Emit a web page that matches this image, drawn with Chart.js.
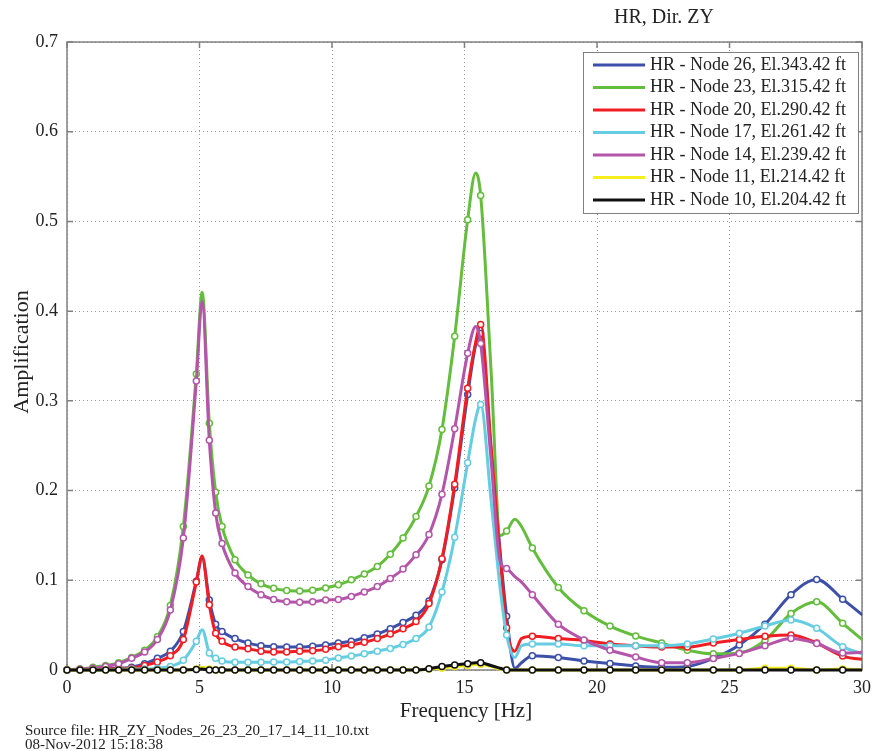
<!doctype html>
<html lang="en">
<head>
<meta charset="utf-8">
<title>HR, Dir. ZY</title>
<script src="https://cdn.jsdelivr.net/npm/chart.js@4.4.1/dist/chart.umd.min.js"></script>
<style>
  html, body { margin: 0; padding: 0; background: #fff; }
  #wrap { width: 878px; height: 751px; }
</style>
</head>
<body>
<div id="wrap"><canvas id="chart" width="878" height="751"></canvas></div>
<script>
// frequency grid [Hz]; markers on every point except the ones listed in unmarkedFreqs
const freqs = [0, 0.49, 0.98, 1.46, 1.95, 2.44, 2.93, 3.41, 3.90, 4.39, 4.88, 5.1, 5.37, 5.61, 5.85,
  6.34, 6.83, 7.32, 7.80, 8.29, 8.78, 9.27, 9.76, 10.24, 10.73, 11.22, 11.71, 12.20, 12.68, 13.17,
  13.66, 14.15, 14.63, 15.12, 15.42, 15.61, 16.0, 16.35, 16.59, 16.9, 17.15, 17.56, 18.54, 19.51,
  20.49, 21.46, 22.44, 23.41, 24.39, 25.37, 26.34, 27.32, 28.29, 29.27, 30.24];
const unmarkedFreqs = [5.1, 15.42, 16.0, 16.35, 16.9, 17.15];

const seriesLabels = [
  'HR - Node 26, El.343.42 ft',
  'HR - Node 23, El.315.42 ft',
  'HR - Node 20, El.290.42 ft',
  'HR - Node 17, El.261.42 ft',
  'HR - Node 14, El.239.42 ft',
  'HR - Node 11, El.214.42 ft',
  'HR - Node 10, El.204.42 ft'
];

const node26 = [0, 0, 0.0005, 0.001, 0.002, 0.003, 0.007, 0.013, 0.021, 0.043, 0.099, 0.125, 0.078, 0.051, 0.043,
  0.035, 0.030, 0.027, 0.026, 0.0255, 0.0255, 0.0265, 0.028, 0.030, 0.032, 0.036, 0.040, 0.046, 0.053, 0.061,
  0.077, 0.123, 0.203, 0.307, 0.362, 0.375, 0.245, 0.130, 0.060, 0.002, 0.008, 0.016, 0.014, 0.010,
  0.0072, 0.0045, 0.003, 0.004, 0.013, 0.028, 0.051, 0.084, 0.101, 0.079, 0.056];
const node23 = [0, 0.001, 0.003, 0.005, 0.008, 0.014, 0.022, 0.037, 0.072, 0.160, 0.330, 0.421, 0.275, 0.198, 0.160,
  0.123, 0.106, 0.096, 0.091, 0.0885, 0.088, 0.089, 0.0915, 0.095, 0.1005, 0.107, 0.1155, 0.129, 0.147, 0.171,
  0.205, 0.268, 0.372, 0.502, 0.554, 0.529, 0.335, 0.150, 0.155, 0.168, 0.160, 0.136, 0.092, 0.066,
  0.049, 0.038, 0.030, 0.022, 0.018, 0.019, 0.033, 0.063, 0.076, 0.052, 0.028];
const node20 = [0, 0, 0.0005, 0.001, 0.0015, 0.002, 0.005, 0.009, 0.016, 0.034, 0.098, 0.127, 0.0726, 0.041, 0.032,
  0.0255, 0.0237, 0.021, 0.020, 0.020, 0.021, 0.0215, 0.023, 0.026, 0.028, 0.031, 0.035, 0.040, 0.046, 0.054,
  0.074, 0.124, 0.207, 0.314, 0.365, 0.385, 0.250, 0.125, 0.047, 0.021, 0.035, 0.0376, 0.035, 0.033,
  0.029, 0.027, 0.0255, 0.0255, 0.030, 0.034, 0.0375, 0.039, 0.030, 0.0155, 0.011];
const node17 = [0, 0, 0, 0, 0.0005, 0.001, 0.001, 0.002, 0.004, 0.011, 0.032, 0.045, 0.019, 0.013, 0.010,
  0.0085, 0.0085, 0.0085, 0.0088, 0.009, 0.0095, 0.010, 0.011, 0.0135, 0.0155, 0.018, 0.021, 0.024, 0.0285, 0.035,
  0.048, 0.087, 0.148, 0.231, 0.280, 0.296, 0.190, 0.090, 0.039, 0.014, 0.027, 0.029, 0.029, 0.027,
  0.027, 0.027, 0.027, 0.029, 0.0346, 0.041, 0.049, 0.0557, 0.0465, 0.026, 0.016];
const node14 = [0, 0.001, 0.002, 0.004, 0.007, 0.013, 0.020, 0.034, 0.067, 0.147, 0.322, 0.411, 0.256, 0.175, 0.141,
  0.108, 0.093, 0.084, 0.0785, 0.076, 0.0756, 0.076, 0.078, 0.0785, 0.082, 0.087, 0.093, 0.102, 0.1126, 0.1285,
  0.151, 0.196, 0.269, 0.353, 0.383, 0.364, 0.235, 0.120, 0.113, 0.104, 0.098, 0.084, 0.051, 0.0335,
  0.022, 0.0145, 0.0082, 0.0082, 0.0128, 0.0185, 0.027, 0.035, 0.0296, 0.019, 0.020];
const node11 = [0, 0, 0, 0, 0, 0, 0, 0, 0, 0, 0.001, 0.003, 0.001, 0, 0,
  0, 0, 0, 0, 0, 0, 0, 0, 0, 0, 0, 0, 0, 0, 0,
  0.001, 0.002, 0.004, 0.005, 0.006, 0.006, 0.004, 0.001, 0, 0, 0, 0, 0, 0,
  0, 0, 0, 0, 0, 0, 0.002, 0.002, 0, 0.001, 0];
const node10 = [0, 0, 0, 0, 0, 0, 0, 0, 0, 0, 0.0005, 0.001, 0, 0, 0,
  0, 0, 0, 0, 0, 0, 0, 0, 0, 0, 0, 0, 0, 0, 0,
  0.0015, 0.004, 0.0056, 0.007, 0.008, 0.008, 0.005, 0.002, 0, 0, 0, 0, 0, 0,
  0, 0, 0, 0, 0, 0, 0, 0, 0, 0, 0];

const seriesValues = [node26, node23, node20, node17, node14, node11, node10];
const seriesColors = ['#3c50aa', '#64bd3c', '#f01e23', '#64cde1', '#b455aa', '#f5ee1a', '#111111'];

const xTicks = [0, 5, 10, 15, 20, 25, 30];
const yTicks = [0, 0.1, 0.2, 0.3, 0.4, 0.5, 0.6, 0.7];

const SERIF = '"Liberation Serif", "Times New Roman", serif';

const datasets = seriesValues.map(function (vals, i) {
  return {
    label: seriesLabels[i],
    data: vals.map(function (v, k) { return { x: freqs[k], y: v }; }),
    borderColor: seriesColors[i],
    borderWidth: 3,
    pointBackgroundColor: '#fff',
    pointBorderColor: seriesColors[i],
    pointBorderWidth: 1.5,
    pointRadius: function (c) {
      return unmarkedFreqs.indexOf(freqs[c.dataIndex]) >= 0 ? 0 : 3;
    },
    cubicInterpolationMode: 'monotone',
    clip: { left: 6, top: 0, right: 0, bottom: 6 },
    order: seriesValues.length - i,
  };
});

const frame = {
  id: 'frame',
  beforeDatasetsDraw(chart) {
    const ctx = chart.ctx, a = chart.chartArea, x = chart.scales.x, y = chart.scales.y;
    ctx.save();
    ctx.strokeStyle = '#808080';
    ctx.lineWidth = 1.5;
    ctx.strokeRect(a.left, a.top, a.right - a.left, a.bottom - a.top);
    ctx.beginPath();
    xTicks.forEach(function (v) {
      const px = x.getPixelForValue(v);
      ctx.moveTo(px, a.bottom); ctx.lineTo(px, a.bottom - 6);
      ctx.moveTo(px, a.top); ctx.lineTo(px, a.top + 6);
    });
    yTicks.forEach(function (v) {
      const py = y.getPixelForValue(v);
      ctx.moveTo(a.left, py); ctx.lineTo(a.left + 6, py);
      ctx.moveTo(a.right, py); ctx.lineTo(a.right - 6, py);
    });
    ctx.stroke();
    ctx.restore();
  },
  afterDraw(chart) {
    const ctx = chart.ctx;
    ctx.save();
    // legend box
    const bx = 583, by = 52, bw = 275, bh = 161;
    ctx.fillStyle = '#fff';
    ctx.fillRect(bx, by, bw, bh);
    ctx.strokeStyle = '#808080';
    ctx.lineWidth = 1;
    ctx.strokeRect(bx + 0.5, by + 0.5, bw, bh);
    ctx.font = '18px ' + SERIF;
    ctx.textBaseline = 'middle';
    ctx.textAlign = 'left';
    seriesLabels.forEach(function (lab, i) {
      const ry = 65 + i * 22.5;
      ctx.strokeStyle = seriesColors[i];
      ctx.lineWidth = 3;
      ctx.beginPath();
      ctx.moveTo(593, ry); ctx.lineTo(645, ry);
      ctx.stroke();
      ctx.fillStyle = '#222';
      ctx.fillText(lab, 650, ry);
    });
    // title and axis titles
    ctx.fillStyle = '#222';
    ctx.textAlign = 'center';
    ctx.font = '20px ' + SERIF;
    ctx.fillText('HR, Dir. ZY', 664, 18);
    ctx.font = '21px ' + SERIF;
    ctx.fillText('Frequency [Hz]', 466, 711);
    ctx.save();
    ctx.translate(22, 352);
    ctx.rotate(-Math.PI / 2);
    ctx.font = '22px ' + SERIF;
    ctx.fillText('Amplification', 0, 0);
    ctx.restore();
    // footer
    ctx.textAlign = 'left';
    ctx.font = '15px ' + SERIF;
    ctx.fillText('Source file: HR_ZY_Nodes_26_23_20_17_14_11_10.txt', 25, 731);
    ctx.fillText('08-Nov-2012 15:18:38', 25, 745);
    ctx.restore();
  }
};

new Chart(document.getElementById('chart'), {
  type: 'line',
  data: { datasets: datasets },
  options: {
    responsive: false,
    devicePixelRatio: 1,
    animation: false,
    layout: { padding: { left: 0, top: 42, right: 12, bottom: 0 } },
    plugins: { legend: { display: false }, tooltip: { enabled: false } },
    scales: {
      x: {
        type: 'linear',
        min: 0,
        max: 30,
        afterFit: function (s) { s.height = 81; },
        afterBuildTicks: function (s) { s.ticks = xTicks.map(function (v) { return { value: v }; }); },
        grid: { color: '#999', lineWidth: 1, drawTicks: false },
        border: { display: false, dash: [1, 3] },
        ticks: { color: '#222', padding: 7, font: { family: SERIF, size: 18 }, maxRotation: 0,
          callback: function (v) { return String(v); } }
      },
      y: {
        type: 'linear',
        min: 0,
        max: 0.7,
        afterFit: function (s) { s.width = 67; },
        afterBuildTicks: function (s) { s.ticks = yTicks.map(function (v) { return { value: v }; }); },
        grid: { color: '#999', lineWidth: 1, drawTicks: false },
        border: { display: false, dash: [1, 3] },
        ticks: { color: '#222', padding: 9, font: { family: SERIF, size: 18 },
          callback: function (v) { return String(v); } }
      }
    }
  },
  plugins: [frame]
});
</script>
</body>
</html>
